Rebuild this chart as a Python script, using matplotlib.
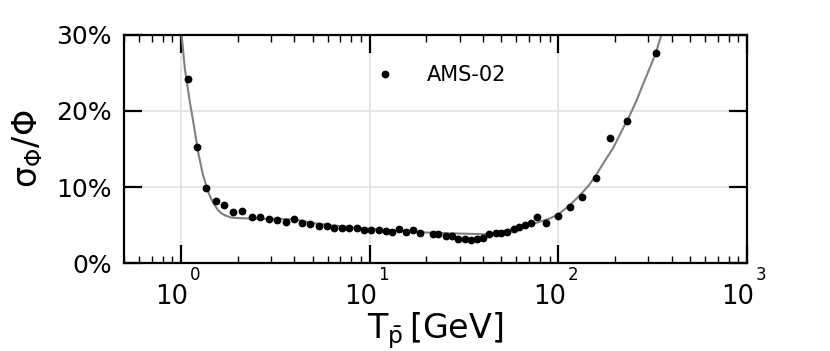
import matplotlib
matplotlib.use('Agg')
import matplotlib.pyplot as plt
from matplotlib.ticker import FuncFormatter, LogLocator, NullFormatter

# AMS-02 antiproton flux relative errors
energy = [1.09, 1.215, 1.36, 1.53, 1.70, 1.90, 2.12, 2.37, 2.63, 2.93, 3.25,
          3.60, 3.97, 4.39, 4.86, 5.37, 5.92, 6.49, 7.12, 7.83, 8.56, 9.36,
          10.2, 11.2, 12.2, 13.2, 14.4, 15.6, 17.0, 18.5, 21.6, 23.1, 25.4,
          27.4, 29.6, 31.9, 34.4, 37.0, 40.0, 43.1, 46.5, 49.9, 53.6, 58.0,
          62.1, 66.8, 71.9, 77.5, 86.2, 100, 116, 134, 159, 189, 231, 331]
rel_err = [24.2, 15.3, 9.9, 8.2, 7.6, 6.75, 6.9, 6.0, 6.0, 5.8, 5.7,
           5.35, 5.75, 5.3, 5.17, 4.82, 4.82, 4.65, 4.65, 4.6, 4.56, 4.34,
           4.38, 4.38, 4.2, 4.12, 4.47, 4.12, 4.3, 3.99, 3.82, 3.78, 3.55,
           3.55, 3.2, 3.2, 3.07, 3.2, 3.29, 3.78, 3.95, 3.99, 4.12, 4.43,
           4.78, 5.0, 5.22, 6.0, 5.26, 6.23, 7.41, 8.73, 11.2, 16.5, 18.7, 27.6]

# model curve
curve_e = [1.01, 1.05, 1.116, 1.18, 1.235, 1.31, 1.395, 1.45, 1.51, 1.57,
           1.64, 1.74, 1.86, 2.05, 2.37, 2.73, 3.3, 3.93, 5.2, 7.0, 9.25,
           13.0, 20.8, 27.8, 40.0, 50.0, 57.5, 68.0, 78.0, 90.0, 100, 115,
           130, 145, 159, 175, 195, 215, 240, 260, 280, 300, 326, 352, 380]
curve_err = [30.0, 25.6, 21.2, 17.7, 14.6, 11.6, 9.4, 8.4, 7.63, 7.0,
             6.54, 6.2, 5.97, 5.9, 5.85, 5.8, 5.8, 5.75, 5.2, 4.85, 4.56,
             4.3, 3.99, 3.9, 3.78, 4.1, 4.5, 4.95, 5.35, 5.85, 6.4, 7.6,
             8.9, 10.2, 11.6, 13.3, 15.1, 17.2, 19.5, 21.4, 23.4, 25.2, 27.4,
             30.0, 32.5]

fig = plt.figure(figsize=(8.3, 3.51), dpi=100)
ax = fig.add_axes([0.1494, 0.2507, 0.7506, 0.6496])

# curve and points
ax.plot(curve_e, curve_err, color='#808080', lw=1.5, zorder=2)
ax.plot(energy, rel_err, 'o', color='black', markersize=4.6, lw=0,
        label='AMS-02', zorder=3)

ax.set_xscale('log')
ax.set_xlim(0.5, 1000)
ax.set_ylim(0, 30)
ax.set_yticks([0, 10, 20, 30])
ax.yaxis.set_major_formatter(FuncFormatter(lambda v, p: '%d%%' % v))
ax.xaxis.set_major_locator(LogLocator(base=10, numticks=10))
ax.xaxis.set_minor_locator(LogLocator(base=10, subs=range(2, 10), numticks=20))
ax.xaxis.set_major_formatter(NullFormatter())

# grid
ax.grid(True, which='major', color='#e2e2e2', lw=1.2, zorder=0)

# ticks
ax.tick_params(which='major', direction='in', length=13, width=1.6,
               top=True, right=True, labelsize=18, pad=9)
ax.tick_params(which='minor', direction='in', length=5, width=1.0,
               top=True, right=False, left=False)
for s in ax.spines.values():
    s.set_linewidth(1.6)

# x tick labels: "10" with exponent set high and to the right
for k, t in enumerate([1, 10, 100, 1000]):
    ax.annotate('10', xy=(t, 0), xycoords=('data', 'axes fraction'),
                xytext=(-6.5, -29.5), textcoords='offset points',
                ha='center', va='baseline', fontsize=18.5)
    ax.annotate(str(k), xy=(t, 0), xycoords=('data', 'axes fraction'),
                xytext=(6.5, -12.3), textcoords='offset points',
                ha='left', va='baseline', fontsize=12)

# axis labels
ax.set_xlabel(r'$\mathrm{T}_{\bar{\mathrm{p}}}\,[\mathrm{GeV}]$', fontsize=24, labelpad=25)
ax.set_ylabel(r'$\mathregular{\sigma_{\Phi}/\Phi}$', fontsize=24, labelpad=8)

# legend
ax.legend(loc='upper center', frameon=False, fontsize=15, handletextpad=1.0,
          bbox_to_anchor=(0.5, 0.95))

plt.savefig('out.png', dpi=100)
